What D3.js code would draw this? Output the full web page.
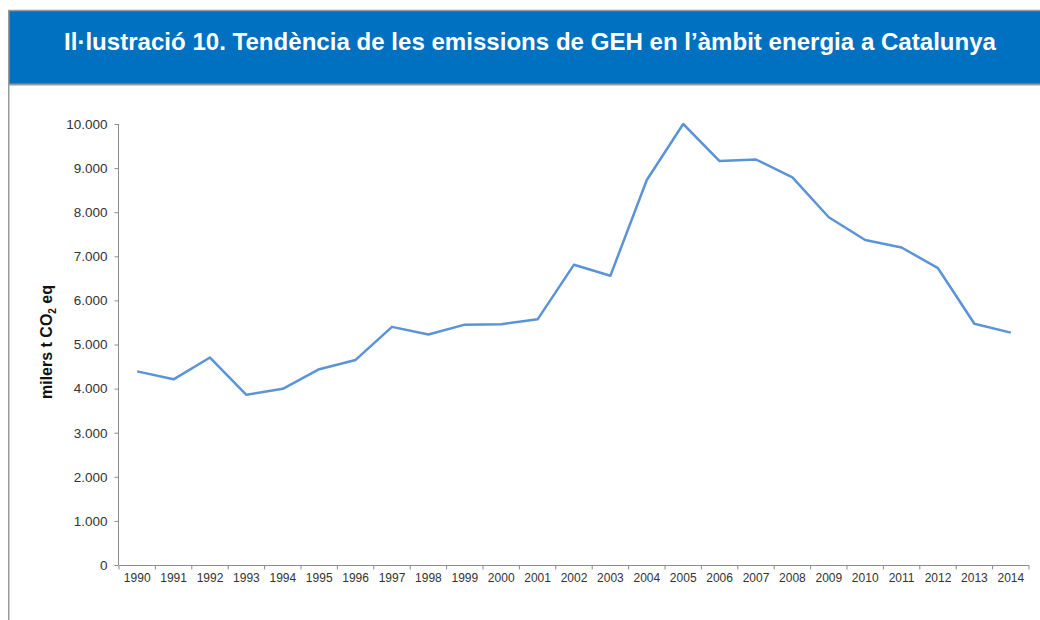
<!DOCTYPE html>
<html>
<head>
<meta charset="utf-8">
<script src="https://cdn.jsdelivr.net/npm/d3@7"></script>
<style>
  html, body { margin: 0; padding: 0; background: #fff; }
  svg { display: block; font-family: "Liberation Sans", Arial, sans-serif; }
</style>
</head>
<body>
<svg id="chart" width="1040" height="620"></svg>
<script>
const titleText = "Il·lustració 10. Tendència de les emissions de GEH en l’àmbit energia a Catalunya";
const years = ["1990","1991","1992","1993","1994","1995","1996","1997","1998","1999","2000","2001","2002","2003","2004","2005","2006","2007","2008","2009","2010","2011","2012","2013","2014"];
const emissions = [4390, 4210, 4705, 3860, 3995, 4440, 4650, 5400, 5225, 5450, 5460, 5570, 6810, 6560, 8730, 10000, 9160, 9195, 8790, 7885, 7370, 7200, 6730, 5470, 5270];
const yTicks = [0, 1000, 2000, 3000, 4000, 5000, 6000, 7000, 8000, 9000, 10000];
const yLabel = "milers t CO";

(function () {
const svg = d3.select("#chart");
const fmt = d3.formatLocale({decimal: ",", thousands: ".", grouping: [3], currency: ["", "€"]}).format(",d");

// frame
svg.append("rect").attr("x", 8).attr("y", 10).attr("width", 1040).attr("height", 74)
  .attr("fill", "#0070c0");
svg.append("line").attr("x1", 8).attr("x2", 1040).attr("y1", 10.5).attr("y2", 10.5).attr("stroke", "#9a9a9a").attr("stroke-width", 1.5);
svg.append("line").attr("x1", 8).attr("x2", 1040).attr("y1", 84.5).attr("y2", 84.5).attr("stroke", "#9a9a9a").attr("stroke-width", 2);
svg.append("line").attr("x1", 8.75).attr("x2", 8.75).attr("y1", 10).attr("y2", 620).attr("stroke", "#9a9a9a").attr("stroke-width", 1.5);

svg.append("text").attr("x", 530).attr("y", 50).attr("text-anchor", "middle")
  .attr("fill", "#fff").attr("font-weight", "bold").attr("font-size", 24)
  .attr("textLength", 932).attr("lengthAdjust", "spacingAndGlyphs")
  .text(titleText);

const pLeft = 119, pRight = 1029, pTop = 124, pBottom = 565;
const x = d3.scaleBand().domain(years).range([pLeft, pRight]).paddingInner(0).paddingOuter(0);
const y = d3.scaleLinear().domain([0, 10000]).range([pBottom, pTop]);

// y axis
const yAxis = svg.append("g").attr("transform", `translate(${pLeft - 0.5},0)`)
  .call(d3.axisLeft(y).tickValues(yTicks).tickFormat(fmt).tickSize(4).tickPadding(7));
yAxis.selectAll("path, line").attr("stroke", "#8c8c8c");
yAxis.select(".domain").attr("d", `M0,${pBottom}V${pTop}`);
yAxis.selectAll("text").attr("font-size", 13.5).attr("fill", "#333").attr("font-family", "Liberation Sans, Arial, sans-serif");

// x axis: labels at band centres, ticks at band edges
const xAxis = svg.append("g").attr("transform", `translate(0,${pBottom + 0.5})`)
  .call(d3.axisBottom(x).tickSize(0).tickPadding(8));
xAxis.select(".domain").attr("stroke", "#8c8c8c").attr("d", `M${pLeft},0H${pRight}`);
xAxis.selectAll("text").attr("font-size", 12).attr("fill", "#333").attr("font-family", "Liberation Sans, Arial, sans-serif");
const edges = years.map(d => x(d)).concat([x(years[years.length - 1]) + x.bandwidth()]);
xAxis.selectAll("line.edge").data(edges).enter().append("line").attr("class", "edge")
  .attr("x1", d => d).attr("x2", d => d).attr("y1", 0).attr("y2", 4).attr("stroke", "#8c8c8c");

// y label
const lab = svg.append("text").attr("transform", `translate(52,${342}) rotate(-90)`)
  .attr("text-anchor", "middle").attr("font-weight", "bold").attr("font-size", 16).attr("fill", "#111");
lab.append("tspan").text(yLabel);
lab.append("tspan").attr("font-size", 10).attr("dy", 4).text("2");
lab.append("tspan").attr("dy", -4).text(" eq");

// line
const line = d3.line().x((d, i) => x(years[i]) + x.bandwidth() / 2).y(d => y(d));
svg.append("path").datum(emissions).attr("d", line).attr("fill", "none")
  .attr("stroke", "#5b93d9").attr("stroke-width", 2.5).attr("stroke-linejoin", "round");
})();
</script>
</body>
</html>
